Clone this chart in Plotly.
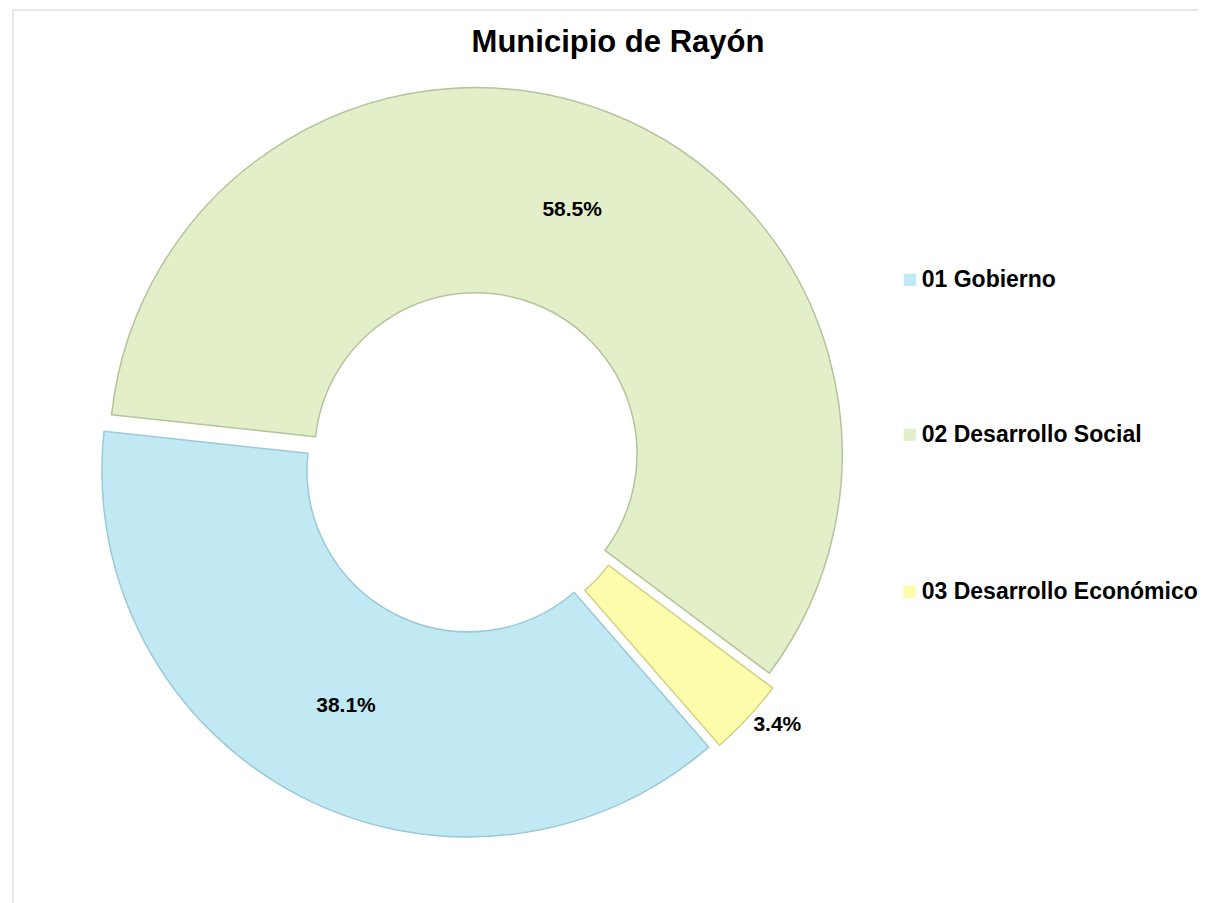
import plotly.graph_objects as go

# data
labels = ["01 Gobierno", "02 Desarrollo Social", "03 Desarrollo Económico"]
shares = [38.1, 58.5, 3.4]
colors = ["#C0E9F3", "#E2EFC8", "#FCFCAA"]
edges = ["#9CC9D6", "#B5C49A", "#D2D28A"]
text_pos = ["inside", "inside", "outside"]

W, H = 1206, 903
FONT = "Arial, Liberation Sans, sans-serif"

fig = go.Figure()

fig.add_trace(go.Pie(
    labels=labels,
    values=shares,
    sort=False,
    direction="clockwise",
    rotation=139,
    hole=0.44,
    pull=[0.025, 0.025, 0.025],
    marker=dict(colors=colors, line=dict(color=edges, width=1.5)),
    texttemplate="%{percent:.1%}",
    textposition=text_pos,
    insidetextorientation="horizontal",
    textfont=dict(family=FONT, size=21, color="black", weight="bold"),
    domain=dict(x=[89 / W, 840 / W], y=[73 / H, 824 / H]),
    showlegend=False,
    hoverinfo="label+percent",
))

# legend drawn as annotations so the items can be spaced like the original
legend_y = [270, 425, 582]
for lab, col, ypx in zip(labels, colors, legend_y):
    fig.add_annotation(
        x=892 / W, y=1 - ypx / H, xref="paper", yref="paper",
        xanchor="left", yanchor="middle", showarrow=False,
        text=f"<span style='color:{col};font-size:25px'>■</span>\u2009{lab}",
        font=dict(family=FONT, size=23, color="black", weight="bold"),
    )

# light frame around the chart area
fig.add_shape(
    type="rect", xref="paper", yref="paper",
    x0=5 / W, x1=1203 / W, y0=1 - 900 / H, y1=1 - 2 / H,
    line=dict(color="#E2E2DA", width=1.5), fillcolor="rgba(0,0,0,0)",
)

fig.update_layout(
    title=dict(
        text="<b>Municipio de Rayón</b>",
        x=610 / W, xanchor="center",
        y=1 - 33 / H, yanchor="middle",
        font=dict(family=FONT, size=31, color="black"),
    ),
    width=W, height=H,
    margin=dict(l=0, r=0, t=0, b=0),
    paper_bgcolor="white",
    plot_bgcolor="white",
)

fig.write_html("out.html")
